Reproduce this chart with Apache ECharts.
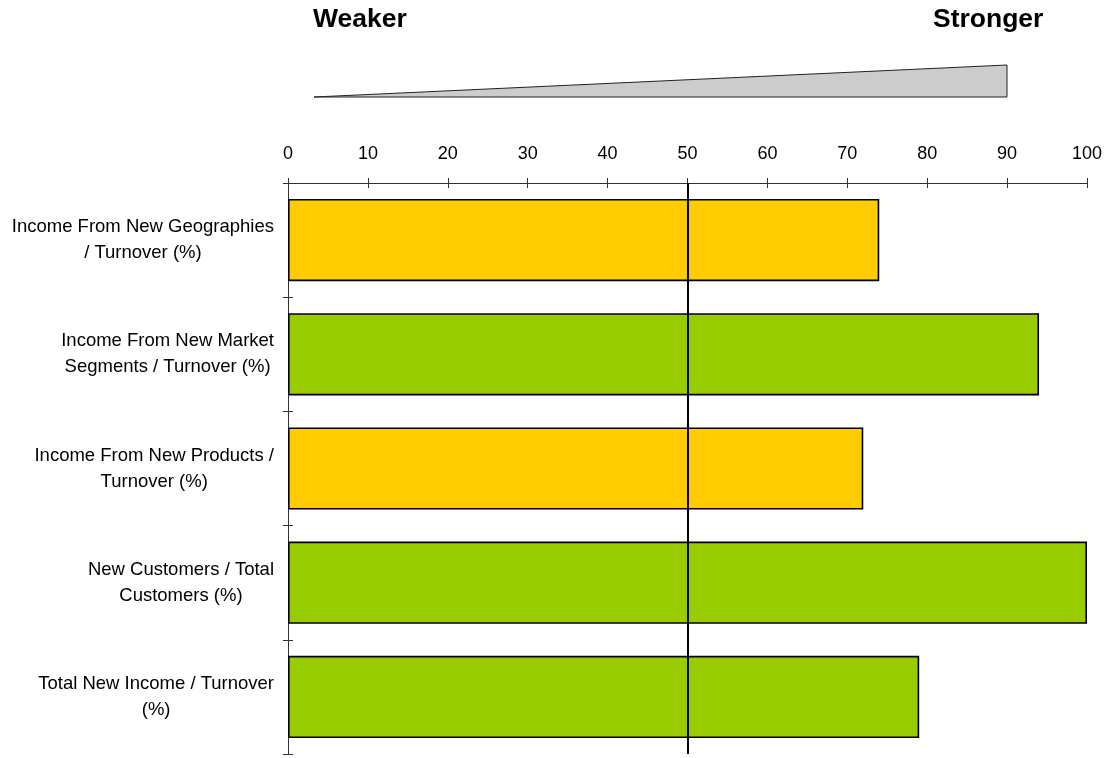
<!DOCTYPE html>
<html>
<head>
<meta charset="utf-8">
<script src="https://cdn.jsdelivr.net/npm/echarts@6/dist/echarts.min.js"></script>
<style>
html,body{margin:0;padding:0;background:#fff;}
#chart{width:1106px;height:758px;}
</style>
</head>
<body>
<div id="chart"></div>
<script>
var categories = [
  'Income From New Geographies\n/ Turnover (%)',
  'Income From New Market\nSegments / Turnover (%)',
  'Income From New Products /\nTurnover (%)',
  'New Customers / Total\nCustomers (%)',
  'Total New Income / Turnover\n(%)'
];
var values = [74, 94, 72, 100, 79];
var barColors = ['#FFCC00', '#99CC00', '#FFCC00', '#99CC00', '#99CC00'];
var xTicks = [0, 10, 20, 30, 40, 50, 60, 70, 80, 90, 100];
var referenceLine = 50;
var scaleLabels = ['Weaker', 'Stronger'];

var FONT = '"Liberation Sans", Arial, sans-serif';
var AXIS_COLOR = '#333';

var chart = echarts.init(document.getElementById('chart'), null, {renderer: 'canvas'});

var gridRect = {left: 288, right: 19, top: 183, bottom: 4};

var option = {
  animation: false,
  backgroundColor: '#ffffff',
  grid: [
    Object.assign({containLabel: false}, gridRect),
    Object.assign({containLabel: false}, gridRect)
  ],
  xAxis: [
    {
      gridIndex: 0, type: 'value', position: 'top',
      min: xTicks[0], max: xTicks[xTicks.length - 1], interval: 10,
      axisLine: {show: true, lineStyle: {color: AXIS_COLOR, width: 1}},
      axisTick: {show: true, inside: true, length: 5, lineStyle: {color: AXIS_COLOR}},
      axisLabel: {show: true, margin: 20, color: '#000', fontSize: 18, fontFamily: FONT},
      splitLine: {show: false}
    },
    {
      gridIndex: 1, type: 'value', position: 'top',
      min: xTicks[0], max: xTicks[xTicks.length - 1], interval: 10,
      axisLine: {show: false},
      axisTick: {show: true, inside: false, length: 5, lineStyle: {color: AXIS_COLOR}},
      axisLabel: {show: false},
      splitLine: {show: false}
    }
  ],
  yAxis: [
    {
      gridIndex: 0, type: 'category', data: categories, inverse: true,
      axisLine: {show: true, onZero: false, lineStyle: {color: AXIS_COLOR, width: 1}},
      axisTick: {show: true, inside: true, length: 5, lineStyle: {color: AXIS_COLOR}},
      axisLabel: {
        show: true, margin: 14, align: 'right',
        formatter: function (v) {
          return v.split('\n').map(function (l) { return '{c|' + l + '}'; }).join('\n');
        },
        rich: {c: {align: 'center', fontSize: 18.5, lineHeight: 26, color: '#000', fontFamily: FONT}}
      }
    },
    {
      gridIndex: 1, type: 'category', data: categories, inverse: true,
      axisLine: {show: false},
      axisTick: {show: true, inside: false, length: 5, lineStyle: {color: AXIS_COLOR}},
      axisLabel: {show: false}
    }
  ],
  series: [
    {
      type: 'bar',
      xAxisIndex: 0, yAxisIndex: 0,
      barCategoryGap: '28%',
      data: values.map(function (v, i) {
        return {value: v, itemStyle: {color: barColors[i]}};
      }),
      itemStyle: {borderColor: '#000', borderWidth: 1.6},
      markLine: {
        silent: true,
        symbol: ['none', 'none'],
        label: {show: false},
        lineStyle: {color: '#000', width: 2, type: 'solid'},
        data: [{xAxis: referenceLine}]
      }
    }
  ],
  graphic: [
    {
      type: 'polygon',
      shape: {points: [[314, 97], [1007, 65], [1007, 97]]},
      style: {fill: '#cccccc', stroke: '#222', lineWidth: 1}
    },
    {
      type: 'text', x: 313, y: 20,
      style: {text: scaleLabels[0], font: 'bold 26.5px ' + FONT, fill: '#000', align: 'left', verticalAlign: 'middle'}
    },
    {
      type: 'text', x: 933, y: 20,
      style: {text: scaleLabels[1], font: 'bold 26.5px ' + FONT, fill: '#000', align: 'left', verticalAlign: 'middle'}
    }
  ]
};

chart.setOption(option);
</script>
</body>
</html>
